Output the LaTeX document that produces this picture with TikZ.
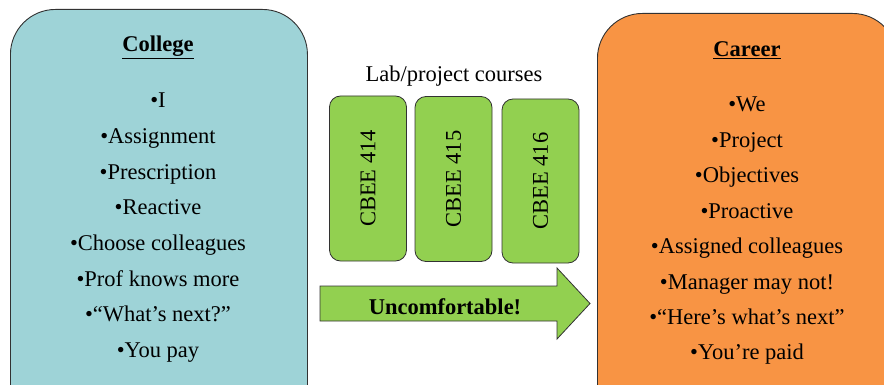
\documentclass[tikz,border=0pt]{standalone}
\usepackage{fontspec}
\setmainfont{Liberation Serif}
\usepackage{graphicx}
\definecolor{collegec}{RGB}{158,211,215}
\definecolor{careerc}{RGB}{248,148,68}
\definecolor{greenc}{RGB}{146,208,80}
\definecolor{edgec}{RGB}{50,50,50}
\begin{document}
\begin{tikzpicture}[x=1pt,y=-1pt,
  bigbox/.style={draw=edgec, line width=0.9pt, rounded corners=45pt, inner sep=0pt, anchor=north west},
  course/.style={draw=edgec, line width=0.8pt, fill=greenc, rounded corners=11pt, inner sep=0pt,
    minimum width=77pt, minimum height=165pt, font=\fontsize{22.5}{26}\selectfont},
  item/.style={font=\fontsize{22.5}{26}\selectfont, inner sep=0pt, anchor=base},
  head/.style={font=\fontsize{22.5}{26}\selectfont\bfseries, inner sep=0pt, anchor=base},
]
\useasboundingbox (0,0) rectangle (884,385);
\begin{scope}
\clip (0,0) rectangle (884,385);
\node[bigbox, fill=collegec, minimum width=297pt, minimum height=440pt] (college) at (10,9) {};
\node[bigbox, fill=careerc, minimum width=300pt, minimum height=440pt] (career) at (597,13) {};
\end{scope}

% College list
\node[head] (ct) at (158,52) {\underline{College}};
\node[item] (c1) at (158,108) {•I};
\node[item] (c2) at (158,143.6) {•Assignment};
\node[item] (c3) at (158,179.2) {•Prescription};
\node[item] (c4) at (158,214.8) {•Reactive};
\node[item] (c5) at (158,250.4) {•Choose colleagues};
\node[item] (c6) at (158,286) {•Prof knows more};
\node[item] (c7) at (158,321.6) {•“What’s next?”};
\node[item] (c8) at (158,357.2) {•You pay};

% Career list
\node[head] (rt) at (747,57) {\underline{Career}};
\node[item] (r1) at (747,112) {•We};
\node[item] (r2) at (747,147.4) {•Project};
\node[item] (r3) at (747,182.8) {•Objectives};
\node[item] (r4) at (747,218.2) {•Proactive};
\node[item] (r5) at (747,253.6) {•Assigned colleagues};
\node[item] (r6) at (747,289) {•Manager may not!};
\node[item] (r7) at (747,324.4) {•“Here’s what’s next”};
\node[item] (r8) at (747,359.8) {•You’re paid};

% Courses
\node[item] (lab) at (454,82) {Lab/project courses};
\node[course] (k1) at (368,178.5) {\rotatebox{90}{CBEE 414}};
\node[course] (k2) at (453.5,179) {\rotatebox{90}{CBEE 415}};
\node[course, minimum height=164pt] (k3) at (540.5,181) {\rotatebox{90}{CBEE 416}};

% Arrow
\draw[draw=edgec, line width=0.8pt, fill=greenc, line join=miter]
  (320,286) -- (557,286) -- (557,268) -- (590,303.5) -- (557,339) -- (557,321) -- (320,321) -- cycle;
\node[head] (unc) at (445,314) {Uncomfortable!};
\end{tikzpicture}
\end{document}
